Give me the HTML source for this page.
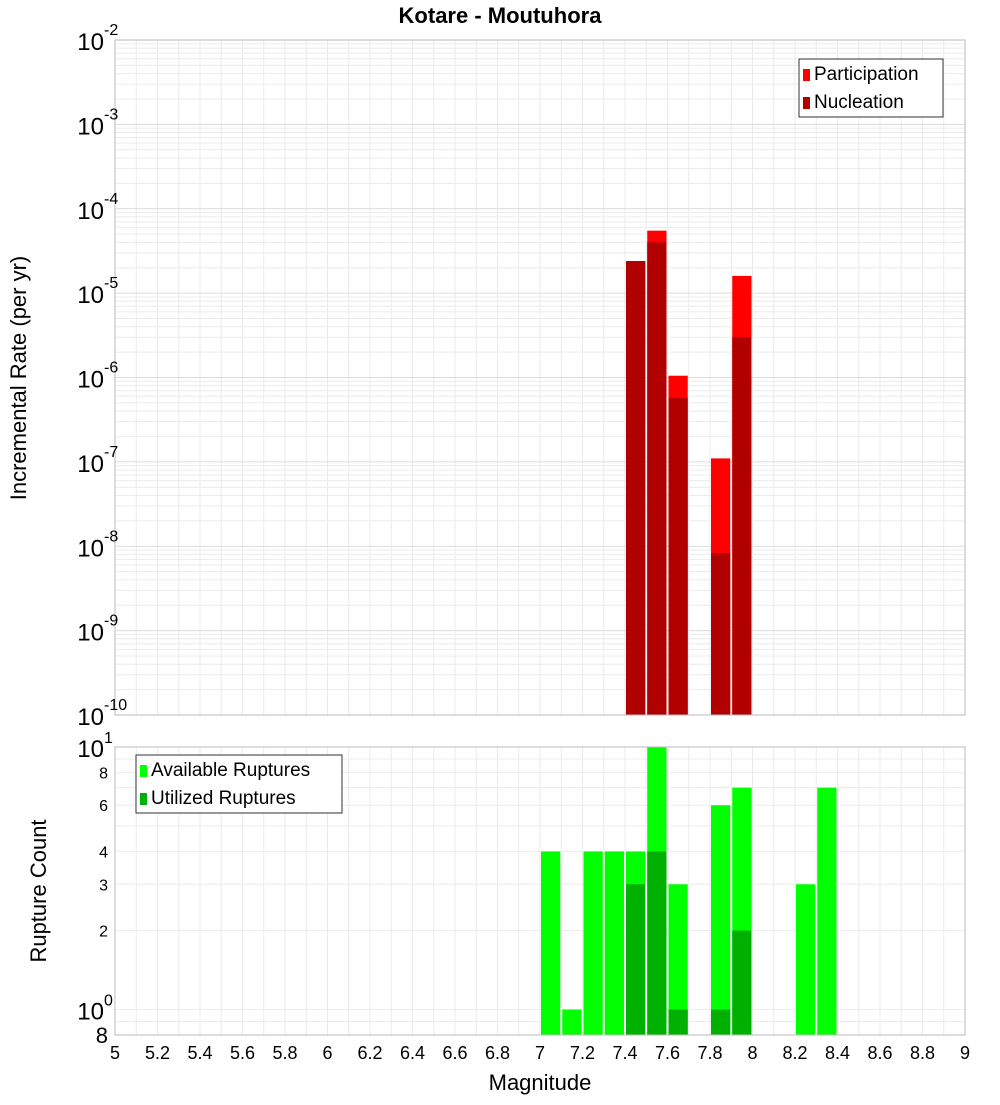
<!DOCTYPE html>
<html><head><meta charset="utf-8">
<style>
body{margin:0;background:#fff;}
svg text{font-family:"Liberation Sans","DejaVu Sans",sans-serif;}
</style></head>
<body>
<svg id="c" width="1000" height="1100" xmlns="http://www.w3.org/2000/svg">
<rect width="1000" height="1100" fill="#fff"/>
<text x="500" y="23" text-anchor="middle" font-size="22" font-weight="bold">Kotare - Moutuhora</text>
<text transform="translate(26,378) rotate(-90)" text-anchor="middle" font-size="22">Incremental Rate (per yr)</text>
<text transform="translate(46,891) rotate(-90)" text-anchor="middle" font-size="22">Rupture Count</text>
<text x="540" y="1090" text-anchor="middle" font-size="22">Magnitude</text>
<g id="topg"></g><g id="botg"></g>
</svg>
<script>
const rateBins=[7.45,7.55,7.65,7.85,7.95];
const participation=[2.4e-5,5.5e-5,1.05e-6,1.1e-7,1.6e-5];
const nucleation=[2.4e-5,4.0e-5,5.7e-7,8.3e-9,3.0e-6];
const countBins=[7.05,7.15,7.25,7.35,7.45,7.55,7.65,7.85,7.95,8.25,8.35];
const available=[4,1,4,4,4,10,3,6,7,3,7];
const utilizedBins=[7.45,7.55,7.65,7.85,7.95];
const utilized=[3,4,1,1,2];
const xTicks=[5,5.2,5.4,5.6,5.8,6,6.2,6.4,6.6,6.8,7,7.2,7.4,7.6,7.8,8,8.2,8.4,8.6,8.8,9];
const topExps=[-2,-3,-4,-5,-6,-7,-8,-9,-10];
const botTicks=[10,8,6,4,3,2,1,0.8];

const NS="http://www.w3.org/2000/svg";
const svgEl=document.getElementById('c');
function el(p,t,a){const e=document.createElementNS(NS,t);for(const k in a)e.setAttribute(k,a[k]);p.appendChild(e);return e;}
const L=115,R=965;
const X=m=>L+(m-5)/4*(R-L);
const T0=40,T1=715;
const YT=v=>T0+(-2-Math.log10(v))/8*(T1-T0);
const B0=747,B1=1035;
const YB=v=>B0+(1-Math.log10(v))/(1-Math.log10(0.8))*(B1-B0);
const bw=0.1*(R-L)/4;

const topG=document.getElementById('topg'),botG=document.getElementById('botg');
for(let i=0;i<=40;i++){const x=X(5+i*0.1);
 let g=el(topG,'line',{x1:x,x2:x,y1:T0,y2:T1,stroke:'#ebebeb','stroke-width':1});
 
 
 g=el(botG,'line',{x1:x,x2:x,y1:B0,y2:B1,stroke:'#ebebeb','stroke-width':1});
 
 }
for(let e=-10;e<-2;e++)for(let k=1;k<10;k++){const y=YT(k*Math.pow(10,e));
 const g=el(topG,'line',{x1:L,x2:R,y1:y,y2:y,stroke:k==1?'#dcdcdc':'#ececec','stroke-width':1});
 
 }
[0.8,0.9,1,2,3,4,5,6,7,8,9,10].forEach(v=>{const y=YB(v);
 const g=el(botG,'line',{x1:L,x2:R,y1:y,y2:y,stroke:'#ececec','stroke-width':1});
 
 });
function bar(p,m,y0,y1,fill,name){const r=el(p,'rect',{x:X(m)-bw/2+1,y:y0,width:bw-2,height:Math.max(0,y1-y0),fill:fill});
 
 }
rateBins.forEach((m,i)=>{bar(topG,m,YT(participation[i]),T1,'#ff0000','participation-bar');
 bar(topG,m,YT(nucleation[i]),T1,'#b00000','nucleation-bar');});
countBins.forEach((m,i)=>bar(botG,m,YB(available[i]),B1,'#00ff00','available-bar'));
utilizedBins.forEach((m,i)=>bar(botG,m,YB(utilized[i]),B1,'#00b000','utilized-bar'));
let f=el(topG,'rect',{x:L,y:T0,width:R-L,height:T1-T0,fill:'none',stroke:'#bbb'});


f=el(botG,'rect',{x:L,y:B0,width:R-L,height:B1-B0,fill:'none',stroke:'#bbb'});


topExps.forEach(e=>{const y=YT(Math.pow(10,e));
 const t=el(svgEl,'text',{x:104,y:y+10,'text-anchor':'end','font-size':24});
 
 
 t.textContent='10';
 const s=el(svgEl,'text',{x:104,y:y-5,'font-size':16});
 
 
 s.textContent=String(e);});
botTicks.forEach(v=>{const y=YB(v);
 if(v==10||v==1){const t=el(svgEl,'text',{x:104,y:y+10,'text-anchor':'end','font-size':24});
  
  
  t.textContent='10';
  const s=el(svgEl,'text',{x:104,y:y-4,'font-size':16});
  
  
  s.textContent=v==10?'1':'0';}
 else{const big=v==0.8;const t=el(svgEl,'text',{x:108,y:y+(big?8:6),'text-anchor':'end','font-size':big?22:16});
  
  
  t.textContent=big?'8':String(v);}});
xTicks.forEach(m=>{const t=el(svgEl,'text',{x:X(m),y:1059,'text-anchor':'middle','font-size':18});
 
 
 t.textContent=String(m);});
function legend(x,y,w,items,name){const g=el(svgEl,'g',{});
 
 
 el(g,'rect',{x:x,y:y,width:w,height:58,fill:'#fff',stroke:'#333'});
 items.forEach((it,i)=>{const r=el(g,'rect',{x:x+4,y:y+10+i*28,width:7,height:12,fill:it[1]});
  
  
  const t=el(g,'text',{x:x+15,y:y+21+i*28,'font-size':19});
  
  
  t.textContent=it[0];});}
legend(799,59,144,[['Participation','#ff0000'],['Nucleation','#b00000']],'top-legend');
legend(136,755,206,[['Available Ruptures','#00ff00'],['Utilized Ruptures','#00b000']],'bottom-legend');
</script>
</body></html>
